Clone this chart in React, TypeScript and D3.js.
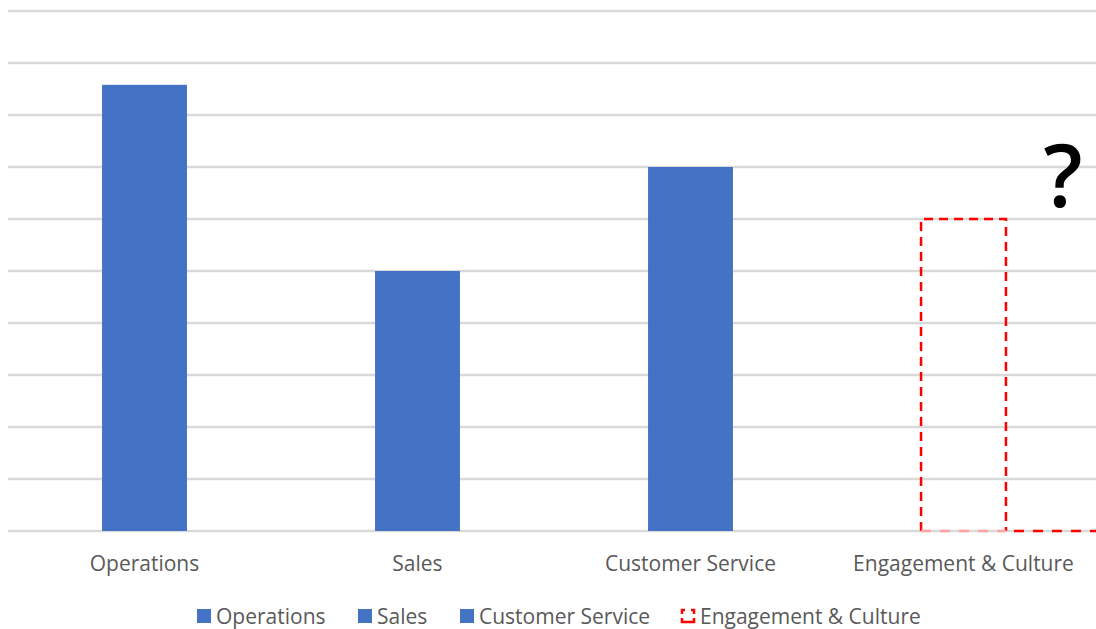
import React from "react";
import * as d3 from "d3";

const categories = ["Operations", "Sales", "Customer Service", "Engagement & Culture"];
const values = [8.58, 5, 7, 6];
const dashed = [false, false, false, true];
const yTicks = d3.range(0, 11, 1);

const W = 1096, H = 629;
const left = 8, right = 1100, top = 11, bottom = 531;
const FONT = "'Open Sans', 'Liberation Sans', sans-serif";

export default function App() {
  const x = d3.scaleBand<string>().domain(categories).range([left, right]).paddingInner(0.689).paddingOuter(0.3445);
  const y = d3.scaleLinear().domain([0, 10]).range([bottom, top]);
  const blue = "#4472C4";
  const red = "#FF0000";
  const legend = [
    { label: categories[0], x: 197 },
    { label: categories[1], x: 358 },
    { label: categories[2], x: 460 },
    { label: categories[3], x: 681, dashed: true },
  ];
  return (
    <svg width={W} height={H} style={{ position: "absolute", left: 0, top: 0, background: "#fff" }}>
      {yTicks.map((t) => (
        <line key={t} x1={left} x2={W} y1={y(t)} y2={y(t)} stroke="#d9d9d9" strokeWidth={2.5} />
      ))}
      {categories.map((c, i) => {
        const bx = x(c)!, bw = x.bandwidth();
        if (!dashed[i]) {
          return <rect key={c} x={bx} y={y(values[i])} width={bw} height={bottom - y(values[i])} fill={blue} />;
        }
        const yt = y(values[i]);
        return (
          <g key={c}>
            <path d={`M${bx},${bottom} V${yt} H${bx + bw} V${bottom}`} fill="none" stroke={red} strokeWidth={2.5} strokeDasharray="9 6" />
            <line x1={bx} x2={bx + bw} y1={bottom} y2={bottom} stroke="#ffa3a3" strokeWidth={2.5} strokeDasharray="10 9" />
            <line x1={bx + bw + 2} x2={W} y1={bottom} y2={bottom} stroke={red} strokeWidth={2.5} strokeDasharray="10 9" strokeDashoffset={-6} />
          </g>
        );
      })}
      {categories.map((c) => (
        <text key={c} x={x(c)! + x.bandwidth() / 2} y={571} textAnchor="middle" fontFamily={FONT} fontSize={21} fill="#595959">
          {c}
        </text>
      ))}
      <text x={1063} y={207} textAnchor="middle" fontFamily={FONT} fontSize={86} fontWeight={600} fill="#000">?</text>
      {legend.map((l) =>
        (
          <g key={l.label}>
            {l.dashed ? (
              <g fill="none" stroke={red} strokeWidth={2.5}>
                <path d={`M${l.x + 1},${614} V${610} H${l.x + 4}`} />
                <path d={`M${l.x + 10},${610} H${l.x + 13} V${614}`} />
                <path d={`M${l.x + 1},${618} V${622} H${l.x + 13} V${618}`} />
              </g>
            ) : (
              <rect x={l.x} y={609} width={14} height={14} fill={blue} />
            )}
            <text x={l.x + 19} y={624} fontFamily={FONT} fontSize={21} fill="#595959">{l.label}</text>
          </g>
        )
      )}
    </svg>
  );
}
